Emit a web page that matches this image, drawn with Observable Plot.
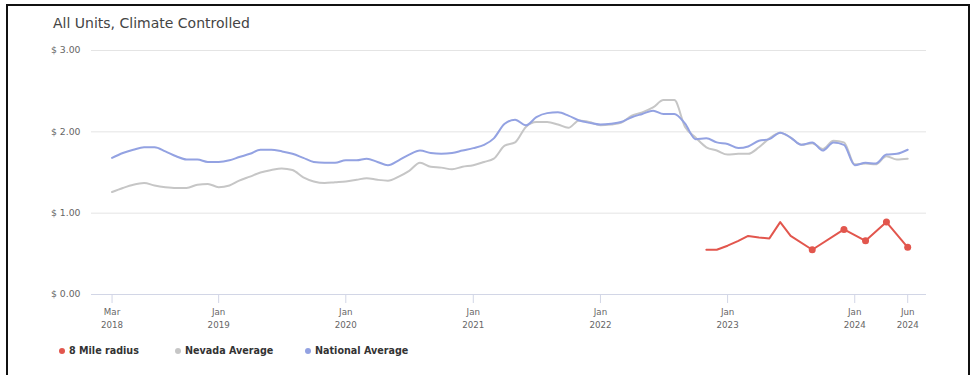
<!DOCTYPE html>
<html>
<head>
<meta charset="utf-8">
<script src="https://cdn.jsdelivr.net/npm/d3@7"></script>
<script src="https://cdn.jsdelivr.net/npm/@observablehq/plot@0.6"></script>
<style>
  html, body { margin: 0; padding: 0; background: #fff; width: 971px; height: 375px; overflow: hidden; }
  .frame { position: absolute; left: 6px; top: 4px; width: 960px; height: 420px; border: 2px solid #111; box-sizing: content-box; }
  .title { position: absolute; left: 53px; top: 16px; font: 14px/1 "DejaVu Sans", sans-serif; color: #444; white-space: nowrap; }
  #chart { position: absolute; left: 0; top: 40px; }
  .legend { position: absolute; top: 346px; font: bold 9.6px/1 "DejaVu Sans", sans-serif; color: #333; white-space: nowrap; }
  .swatch { position: absolute; width: 6px; height: 6px; border-radius: 50%; top: 347.5px; }
</style>
</head>
<body>
<div class="frame"></div>
<div class="title">All Units, Climate Controlled</div>
<div id="chart"></div>
<div id="legend"></div>
<script>
// Monthly averages, March 2018 through June 2024
const seriesStart = "2018-03-01";
const nationalAvg = [
  1.68, 1.74, 1.78, 1.81, 1.81, 1.76, 1.70, 1.66, 1.66, 1.63,
  1.63, 1.65, 1.69, 1.73, 1.78, 1.78, 1.76, 1.73, 1.68, 1.63, 1.62, 1.62,
  1.65, 1.65, 1.67, 1.63, 1.59, 1.65, 1.72, 1.77, 1.74, 1.73, 1.74, 1.77,
  1.80, 1.84, 1.92, 2.10, 2.15, 2.08, 2.18, 2.23, 2.24, 2.20, 2.14, 2.11,
  2.09, 2.10, 2.12, 2.18, 2.22, 2.26, 2.22, 2.22, 2.10, 1.91, 1.92, 1.87,
  1.85, 1.80, 1.82, 1.89, 1.91, 1.99, 1.93, 1.84, 1.87, 1.77, 1.87, 1.84,
  1.59, 1.62, 1.61, 1.72, 1.73, 1.78
];
const nevadaAvg = [
  1.26, 1.31, 1.35, 1.37, 1.34, 1.32, 1.31, 1.31, 1.35, 1.36,
  1.32, 1.34, 1.40, 1.45, 1.50, 1.53, 1.55, 1.53, 1.44, 1.39, 1.37, 1.38,
  1.39, 1.41, 1.43, 1.41, 1.40, 1.45, 1.52, 1.62, 1.57, 1.56, 1.54, 1.57,
  1.59, 1.63, 1.67, 1.83, 1.87, 2.06, 2.12, 2.12, 2.09, 2.05, 2.14, 2.12,
  2.08, 2.09, 2.11, 2.20, 2.24, 2.30, 2.39, 2.39, 2.06, 1.93, 1.81, 1.77,
  1.72, 1.73, 1.73, 1.81, 1.92, 1.99, 1.93, 1.84, 1.86, 1.79, 1.89, 1.87,
  1.60, 1.61, 1.60, 1.70, 1.66, 1.67
];

// 8 mile radius observations (irregular months)
const radiusDates = [
  "2022-11-01", "2022-12-01", "2023-01-01", "2023-02-01", "2023-03-01", "2023-04-01",
  "2023-05-01", "2023-06-01", "2023-07-01", "2023-09-01", "2023-12-01", "2024-02-01",
  "2024-04-01", "2024-06-01"
];
const radiusValues = [0.55, 0.55, 0.60, 0.66, 0.72, 0.70, 0.69, 0.89, 0.72, 0.55, 0.80, 0.66, 0.89, 0.58];

const xTickDates = ["2018-03-01", "2019-01-01", "2020-01-01", "2021-01-01", "2022-01-01", "2023-01-01", "2024-01-01", "2024-06-01"];
const yTicks = [0, 1, 2, 3];

const seriesNames = ["8 Mile radius", "Nevada Average", "National Average"];
const seriesColors = ["#e2564d", "#c6c6c6", "#93a2e2"];

const start = new Date(seriesStart);
const monthly = (values, name) => values.map((v, i) => ({date: d3.utcMonth.offset(start, i), value: v, series: name}));
const national = monthly(nationalAvg, seriesNames[2]);
const nevada = monthly(nevadaAvg, seriesNames[1]);
const radius = radiusDates.map((d, i) => ({date: new Date(d), value: radiusValues[i], series: seriesNames[0]}));
// a marker is shown where the previous observation is more than one month back
const radiusMarked = radius.filter((d, i) => i > 0 && d3.utcMonth.count(radius[i - 1].date, d.date) > 1);

const fmtMonth = d3.utcFormat("%b"), fmtYear = d3.utcFormat("%Y");

const chart = Plot.plot({
  width: 971,
  height: 290,
  marginLeft: 91,
  marginRight: 45,
  marginTop: 10,
  marginBottom: 36,
  style: {fontFamily: "DejaVu Sans, sans-serif", fontSize: "8.7px", color: "#666", background: "transparent"},
  x: {type: "utc", domain: [new Date("2018-01-01"), new Date("2024-07-25")]},
  y: {domain: [0, 3]},
  marks: [
    Plot.ruleY([1, 2, 3], {stroke: "#e4e4e4", strokeWidth: 1}),
    Plot.ruleY([0], {stroke: "#d2d6e6", strokeWidth: 1}),
    Plot.axisY({ticks: yTicks, tickSize: 0, tickPadding: 11, tickFormat: d => "$ " + d.toFixed(2), fontSize: 9.3, fill: "#666", label: null}),
    Plot.axisX({ticks: xTickDates.map(d => new Date(d)), tickSize: 9, tickPadding: 2, lineHeight: 1.5,
      tickFormat: d => fmtMonth(d) + "\n" + fmtYear(d), stroke: "#d2d6e6", fill: "#666", label: null}),
    Plot.line(nevada, {x: "date", y: "value", stroke: seriesColors[1], strokeWidth: 2, curve: "monotone-x"}),
    Plot.line(national, {x: "date", y: "value", stroke: seriesColors[2], strokeWidth: 2, curve: "monotone-x"}),
    Plot.line(radius, {x: "date", y: "value", stroke: seriesColors[0], strokeWidth: 2}),
    Plot.dot(radiusMarked, {x: "date", y: "value", fill: seriesColors[0], r: 3.5})
  ]
});
document.getElementById("chart").append(chart);

// legend row beneath the plot
const legend = document.getElementById("legend");
const legendX = [62, 178, 308];
seriesNames.forEach((name, i) => {
  const sw = document.createElement("div");
  sw.className = "swatch";
  sw.style.left = (legendX[i] - 3) + "px";
  sw.style.background = seriesColors[i];
  legend.append(sw);
  const t = document.createElement("div");
  t.className = "legend";
  t.style.left = (legendX[i] + 7) + "px";
  t.textContent = name;
  legend.append(t);
});
</script>
</body>
</html>
